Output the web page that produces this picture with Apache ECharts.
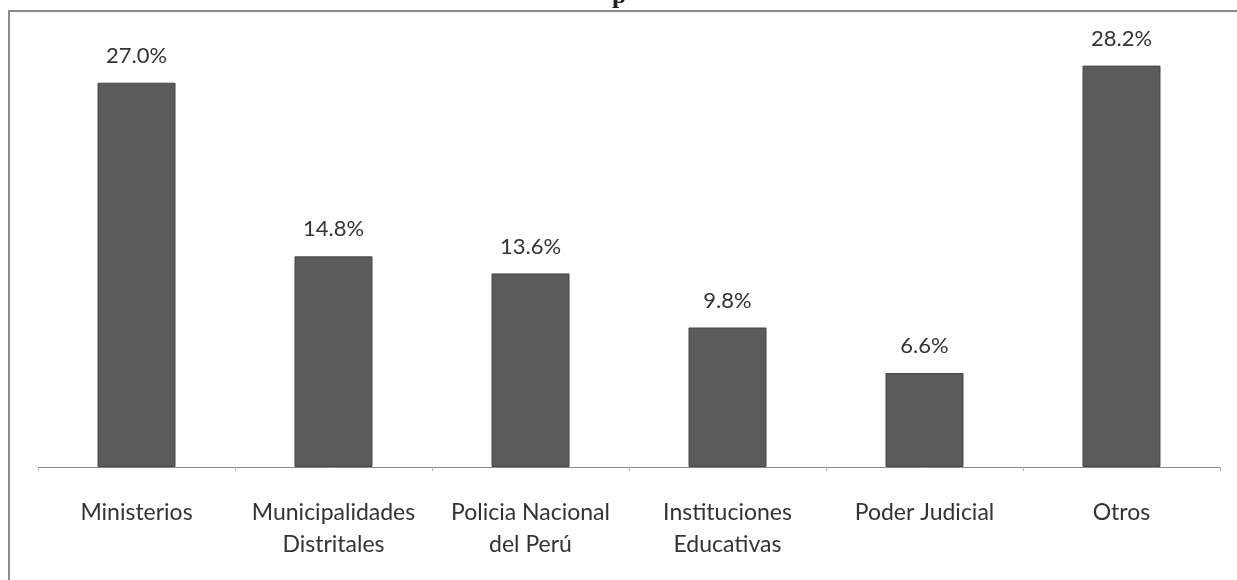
<!DOCTYPE html>
<html>
<head>
<meta charset="utf-8">
<script src="https://cdn.jsdelivr.net/npm/echarts@6/dist/echarts.min.js"></script>
<style>
  html, body { margin: 0; padding: 0; background: #fff; }
  #chart { width: 1237px; height: 580px; }
</style>
</head>
<body>
<div id="chart"></div>
<script>
// data
const categories = [
  'Ministerios',
  'Municipalidades\nDistritales',
  'Policia Nacional\ndel Perú',
  'Instituciones\nEducativas',
  'Poder Judicial',
  'Otros'
]
const shares = [27.0, 14.8, 13.6, 9.8, 6.6, 28.2] // %

const chart = echarts.init(document.getElementById('chart'))
const option = {
  animation: false,
  backgroundColor: '#fff',
  graphic: [
    {
      // frame around the plot (right edge runs off the picture)
      type: 'polyline',
      shape: { points: [[1240, 11], [9, 11], [9, 582]] },
      style: { stroke: '#8a8a8a', lineWidth: 2, fill: null }
    },
    {
      // tail of a title that is cut off above
      type: 'text',
      left: 612,
      top: -17,
      style: { text: 'p', font: 'bold 26px "Liberation Serif"', fill: '#222' }
    }
  ],
  grid: {
    left: 38,
    right: 17,
    top: 40,
    bottom: 113
  },
  xAxis: {
    type: 'category',
    data: categories,
    axisLine: { lineStyle: { color: '#8c8c8c', width: 1 } },
    axisTick: { show: true, length: 4, lineStyle: { color: '#b8b8b8' } },
    axisLabel: {
      color: '#333',
      fontFamily: 'Lato',
      fontSize: 23,
      lineHeight: 32,
      margin: 30,
      interval: 0
    }
  },
  yAxis: {
    type: 'value',
    min: 0,
    max: 30,
    show: false,
    splitLine: { show: false }
  },
  series: [
    {
      type: 'bar',
      data: shares,
      barWidth: 78,
      itemStyle: {
        color: '#5b5b5b',
        borderColor: '#474747',
        borderWidth: 1
      },
      label: {
        show: true,
        position: 'top',
        distance: 16,
        color: '#333',
        fontFamily: 'Lato',
        fontSize: 22,
        formatter: p => p.value.toFixed(1) + '%'
      }
    }
  ]
}
chart.setOption(option)
</script>
</body>
</html>
